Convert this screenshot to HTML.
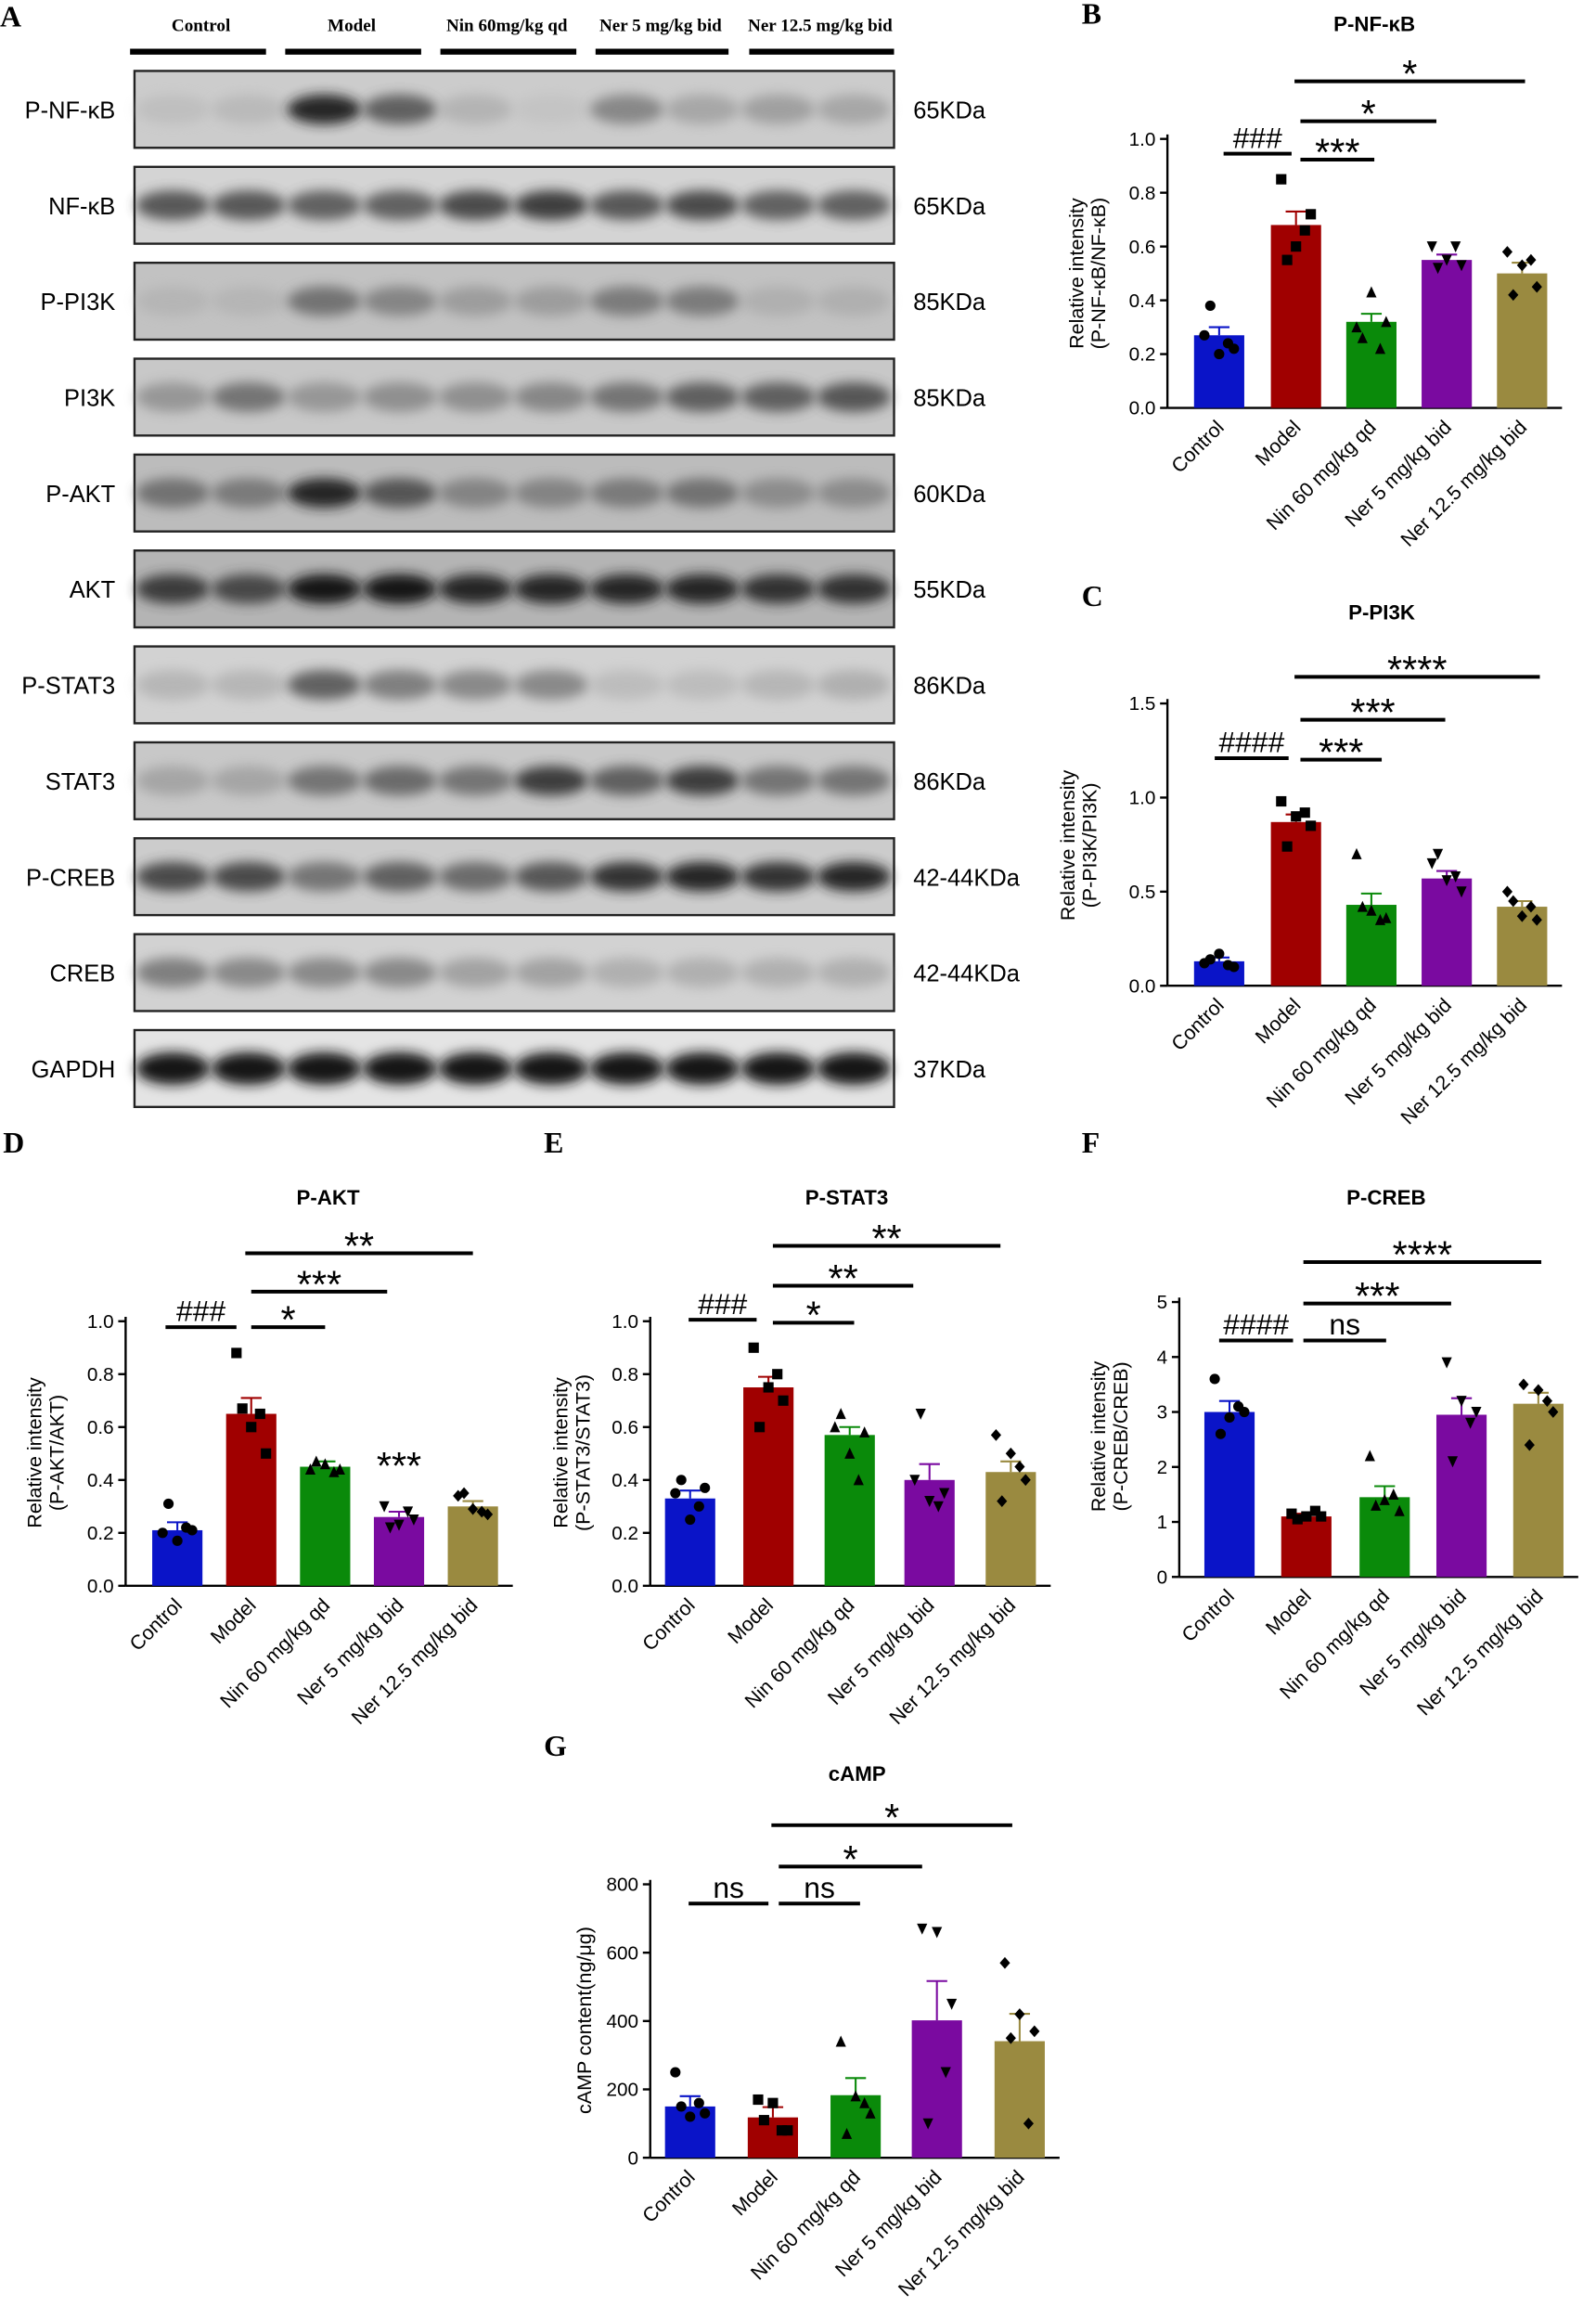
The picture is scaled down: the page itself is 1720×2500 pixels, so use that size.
<!DOCTYPE html>
<html><head><meta charset="utf-8">
<style>html,body{margin:0;padding:0;background:#fff;}svg{display:block;}</style>
</head><body>
<svg id="s" xmlns="http://www.w3.org/2000/svg" width="1720" height="2500" viewBox="0 0 1080 1569.8" font-family="Liberation Sans, DejaVu Sans, sans-serif">
<defs>
<filter id="bl" x="-50%" y="-100%" width="200%" height="300%"><feGaussianBlur stdDeviation="4"/></filter>
</defs>
</svg>
<script>
const S=document.getElementById('s');let h='';
function T(x,y,t,o){o=o||{};h+=`<text x="${x}" y="${y}" font-size="${o.fs||13}" font-weight="${o.fw||'normal'}" text-anchor="${o.a||'middle'}" font-family="${o.ff||'Liberation Sans, DejaVu Sans, sans-serif'}" ${o.tr?`transform="${o.tr}"`:''}>${t}</text>`;}
function L(x1,y1,x2,y2,w,c){h+=`<line x1="${x1}" y1="${y1}" x2="${x2}" y2="${y2}" stroke="${c||'#000'}" stroke-width="${w||1.5}"/>`;}
T(0,18,'A',{fs:20,fw:'bold',a:'start',ff:'Liberation Serif, serif'});
const hd=[['Control',136,88,180],['Model',238,193,285],['Nin 60mg/kg qd',343,298,390],['Ner 5 mg/kg bid',447,403,493],['Ner 12.5 mg/kg bid',555,507,605]];
hd.forEach(d=>{T(d[1],21,d[0],{fs:12,fw:'bold',ff:'Liberation Serif, serif'});L(d[2],35,d[3],35,4);});
const rows=[['P-NF-κB','65KDa',[.1,.15,.95,.7,.2,.05,.5,.3,.35,.3],'#cccccc'],
['NF-κB','65KDa',[.75,.75,.7,.7,.8,.85,.75,.8,.7,.7],'#d4d4d4'],
['P-PI3K','85KDa',[.15,.15,.6,.5,.35,.35,.55,.55,.2,.2],'#c2c2c2'],
['PI3K','85KDa',[.4,.6,.4,.45,.45,.5,.6,.7,.7,.75],'#c8c8c8'],
['P-AKT','60KDa',[.6,.55,.95,.75,.5,.5,.55,.6,.45,.45],'#bcbcbc'],
['AKT','55KDa',[.85,.8,1,1,.95,.95,.95,.95,.9,.9],'#b4b4b4'],
['P-STAT3','86KDa',[.2,.2,.7,.55,.5,.5,.15,.15,.2,.25],'#d2d2d2'],
['STAT3','86KDa',[.3,.3,.6,.65,.6,.85,.7,.85,.6,.6],'#c8c8c8'],
['P-CREB','42-44KDa',[.8,.8,.6,.7,.65,.75,.9,.95,.9,.95],'#cccccc'],
['CREB','42-44KDa',[.55,.5,.5,.5,.35,.35,.25,.25,.25,.25],'#d2d2d2'],
['GAPDH','37KDa',[1,1,1,1,1,1,1,1,1,1],'#e4e4e4']];
rows.forEach((r,i)=>{const cy=74+i*64.9;const y=cy-26;
h+=`<rect x="91" y="${y}" width="514" height="52" fill="${r[3]}" stroke="#222" stroke-width="1.5"/>`;
r[2].forEach((v,j)=>{const cx=117+j*51.2;const g=Math.round(25+(1-v)*170);
h+=`<ellipse cx="${cx}" cy="${cy}" rx="25" ry="${i==10?11:10}" fill="rgb(${g},${g},${g})" opacity="${0.45+0.55*v}" filter="url(#bl)"/>`;});
T(78,cy+6,r[0],{fs:16,a:'end'});T(618,cy+6,r[1],{fs:16,a:'start'});});
const cols=['#0a14c8','#a00000','#0a8a0a','#7a0aa0','#9a8a40'];
const names=['Control','Model','Nin 60 mg/kg qd','Ner 5 mg/kg bid','Ner 12.5 mg/kg bid'];
function mk(k,x,y){const s=3.5;
if(k==0)return `<circle cx="${x}" cy="${y}" r="${s}"/>`;
if(k==1)return `<rect x="${x-s}" y="${y-s}" width="${2*s}" height="${2*s}"/>`;
if(k==2)return `<polygon points="${x},${y-s-.5} ${x-s},${y+s} ${x+s},${y+s}"/>`;
if(k==3)return `<polygon points="${x},${y+s+.5} ${x-s},${y-s} ${x+s},${y-s}"/>`;
return `<polygon points="${x},${y-s-.5} ${x+s},${y} ${x},${y+s+.5} ${x-s},${y}"/>`;}
function chart(c){const sc=(c.y0-c.yt)/c.max;const Y=v=>c.y0-v*sc;
T(c.lx,c.ly,c.letter,{fs:20,fw:'bold',a:'start',ff:'Liberation Serif, serif'});
T(c.tx,c.ty,c.title,{fs:14,fw:'bold'});
L(c.ax,c.yt-3,c.ax,c.y0,1.5);L(c.ax,c.y0,c.bx[4]+27,c.y0,1.5);
for(let v=0;v<=c.max+1e-9;v+=c.step){const y=Y(v);L(c.ax-5,y,c.ax,y,1.5);T(c.ax-8,y+4.5,c.fmt(v),{fs:13,a:'end'});}
c.bx.forEach((x,i)=>{const v=c.v[i];h+=`<rect x="${x-17}" y="${Y(v)}" width="34" height="${v*sc}" fill="${cols[i]}"/>`;
const e=c.e[i]*sc;L(x,Y(v)-e,x,Y(v),1.3,cols[i]);L(x-7,Y(v)-e,x+7,Y(v)-e,1.3,cols[i]);
h+='<g fill="#000">';c.p[i].forEach((pv,j)=>{const dx=[-10,0,10,-6,6][j];h+=mk(i,x+dx,Y(pv));});h+='</g>';
T(x+4,c.y0+14,names[i],{fs:13.5,a:'end',tr:`rotate(-45 ${x+4} ${c.y0+14})`});});
h+=`<g transform="rotate(-90 ${c.ylx} ${c.yly})">`;T(c.ylx,c.yly,c.yl1,{fs:13.5});if(c.yl2)T(c.ylx,c.yly+15,c.yl2,{fs:13.5});h+='</g>';
c.br.forEach(b=>{L(b[0],b[2],b[1],b[2],2.5);const st=b[3][0]=='*';T((b[0]+b[1])/2,b[2]-(st?-4:4),b[3],{fs:b[3]=='ns'?20:(st?26:20)});});}
const f1=v=>v.toFixed(1),f0=v=>String(Math.round(v));
chart({letter:'B',lx:732,ly:16,title:'P-NF-κB',tx:930,ty:21,ax:790,y0:276,yt:94,max:1,step:.2,fmt:f1,bx:[825,877,928,979,1030],
v:[.27,.68,.32,.55,.50],e:[.03,.05,.03,.02,.04],p:[[.27,.2,.22,.38,.24],[.85,.6,.72,.55,.66],[.3,.43,.32,.26,.22],[.6,.55,.53,.52,.6],[.58,.53,.45,.42,.55]],
ylx:733,yly:185,yl1:'Relative intensity',yl2:'(P-NF-κB/NF-κB)',br:[[828,874,104,'###'],[880,930,108,'***'],[880,972,82,'*'],[876,1032,55,'*']]});
chart({letter:'C',lx:732,ly:410,title:'P-PI3K',tx:935,ty:419,ax:790,y0:667,yt:476,max:1.5,step:.5,fmt:f1,bx:[825,877,928,979,1030],
v:[.13,.87,.43,.57,.42],e:[.02,.04,.06,.04,.03],p:[[.12,.17,.1,.14,.11],[.98,.9,.85,.74,.92],[.7,.4,.36,.42,.35],[.65,.56,.5,.7,.58],[.5,.37,.35,.45,.42]],
ylx:727,yly:572,yl1:'Relative intensity',yl2:'(P-PI3K/PI3K)',br:[[822,872,513,'####'],[880,935,514,'***'],[880,978,487,'***'],[876,1042,458,'****']]});
chart({letter:'D',lx:2,ly:780,title:'P-AKT',tx:222,ty:815,ax:85,y0:1073,yt:894,max:1,step:.2,fmt:f1,bx:[120,170,220,270,320],
v:[.21,.65,.45,.26,.30],e:[.03,.06,.02,.02,.02],p:[[.2,.17,.21,.31,.22],[.88,.6,.5,.67,.65],[.44,.46,.44,.47,.43],[.3,.23,.25,.22,.28],[.34,.29,.27,.35,.28]],
ylx:28,yly:983,yl1:'Relative intensity',yl2:'(P-AKT/AKT)',br:[[112,160,898,'###'],[170,220,898,'*'],[170,262,874,'***'],[166,320,848,'**']]});
T(270,1001,'***',{fs:26});
chart({letter:'E',lx:368,ly:780,title:'P-STAT3',tx:573,ty:815,ax:440,y0:1073,yt:894,max:1,step:.2,fmt:f1,bx:[467,520,575,629,684],
v:[.33,.75,.57,.40,.43],e:[.03,.04,.03,.06,.04],p:[[.35,.25,.37,.4,.3],[.9,.75,.7,.6,.8],[.6,.5,.58,.65,.4],[.4,.32,.35,.65,.3],[.57,.5,.4,.32,.45]],
ylx:384,yly:983,yl1:'Relative intensity',yl2:'(P-STAT3/STAT3)',br:[[466,512,893,'###'],[523,578,895,'*'],[523,618,870,'**'],[523,677,843,'**']]});
chart({letter:'F',lx:732,ly:780,title:'P-CREB',tx:938,ty:815,ax:798,y0:1067,yt:881,max:5,step:1,fmt:f0,bx:[832,884,937,989,1041],
v:[3.0,1.1,1.45,2.95,3.15],e:[.2,.05,.2,.3,.2],p:[[3.6,2.9,3.0,2.6,3.1],[1.15,1.1,1.1,1.05,1.2],[2.2,1.4,1.2,1.3,1.5],[3.9,3.2,3.0,2.1,2.8],[3.5,3.4,3.0,2.4,3.2]],
ylx:748,yly:972,yl1:'Relative intensity',yl2:'(P-CREB/CREB)',br:[[825,875,907,'####'],[882,938,907,'ns'],[882,982,882,'***'],[882,1043,854,'****']]});
chart({letter:'G',lx:368,ly:1188,title:'cAMP',tx:580,ty:1205,ax:440,y0:1460,yt:1275,max:800,step:200,fmt:f0,bx:[467,523,579,634,690],
v:[150,118,183,402,341],e:[30,30,50,115,80],p:[[250,120,130,150,160],[170,160,80,110,80],[340,180,130,70,160],[670,660,450,100,250],[570,420,370,350,100]],
ylx:400,yly:1367,yl1:'cAMP content(ng/μg)',br:[[466,520,1288,'ns'],[527,582,1288,'ns'],[527,624,1263,'*'],[522,685,1235,'*']]});
S.insertAdjacentHTML('beforeend',h);
</script>
</body></html>
